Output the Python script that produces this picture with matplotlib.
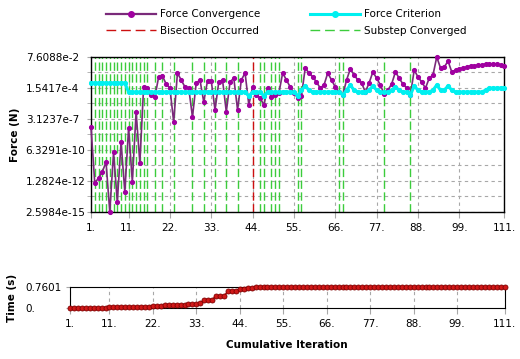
import matplotlib.pyplot as plt
import numpy as np
from matplotlib.lines import Line2D
from matplotlib.ticker import FixedLocator, NullFormatter

# cumulative iteration index
iterations = np.arange(1, 112)

force_convergence = [
    6.3e-8, 8.6e-13, 2.3e-12, 7.8e-12, 5.7e-11, 2.6e-15, 4.2e-10, 1.9e-14, 3.1e-9, 1.4e-13,
    5.2e-8, 1.05e-12, 1.3e-6, 4.7e-11, 1.9e-4, 1.5e-4, 3.8e-5, 2.5e-5, 1.4e-3, 1.7e-3,
    3.4e-4, 1.5e-4, 1.7e-7, 3.1e-3, 7.6e-4, 1.9e-4, 1.5e-4, 4.7e-7, 4.2e-4, 7.6e-4,
    9.4e-6, 6.3e-4, 6.3e-4, 1.9e-6, 5.1e-4, 7.6e-4, 1.3e-6, 5.1e-4, 1.1e-3, 1.9e-6,
    7.6e-4, 3.1e-3, 5.1e-6, 1.9e-4, 3.8e-5, 2.1e-5, 5.1e-6, 1.5e-4, 2.5e-5, 3.8e-5,
    5.7e-5, 3.1e-3, 7.6e-4, 1.9e-4, 5.7e-5, 2.1e-5, 3.1e-5, 8.4e-3, 3.1e-3, 1.4e-3,
    5.1e-4, 1.5e-4, 2.8e-4, 3.1e-3, 7.6e-4, 1.9e-4, 6.9e-5, 3.8e-5, 7.6e-4, 6.9e-3,
    2.1e-3, 7.6e-4, 4.2e-4, 6.9e-5, 4.2e-4, 3.8e-3, 1.1e-3, 2.8e-4, 4.6e-5, 1.0e-4,
    3.4e-4, 3.8e-3, 1.1e-3, 3.4e-4, 1.5e-4, 3.8e-5, 5.6e-3, 1.4e-3, 5.1e-4, 1.5e-4,
    1.1e-3, 2.1e-3, 7.6e-2, 8.4e-3, 1.0e-2, 3.4e-2, 3.8e-3, 5.6e-3, 6.9e-3, 8.4e-3,
    1.0e-2, 1.3e-2, 1.3e-2, 1.5e-2, 1.5e-2, 1.9e-2, 1.9e-2, 1.9e-2, 1.9e-2, 1.5e-2,
    1.3e-2,
]

force_criterion = [
    4.2e-4, 4.2e-4, 4.2e-4, 4.2e-4, 4.2e-4, 4.2e-4, 4.2e-4, 4.2e-4, 4.2e-4, 4.2e-4,
    6.9e-5, 6.9e-5, 6.9e-5, 6.9e-5, 6.9e-5, 6.9e-5, 6.9e-5, 6.9e-5, 6.9e-5, 6.9e-5,
    6.9e-5, 6.9e-5, 6.9e-5, 6.9e-5, 6.9e-5, 6.9e-5, 6.9e-5, 6.9e-5, 6.9e-5, 6.9e-5,
    6.9e-5, 6.9e-5, 6.9e-5, 6.9e-5, 6.9e-5, 6.9e-5, 6.9e-5, 6.9e-5, 6.9e-5, 6.9e-5,
    6.9e-5, 6.9e-5, 3.1e-5, 6.9e-5, 6.9e-5, 6.9e-5, 3.1e-5, 6.9e-5, 6.9e-5, 6.9e-5,
    6.9e-5, 6.9e-5, 6.9e-5, 6.9e-5, 6.9e-5, 3.1e-5, 1.0e-4, 2.3e-4, 1.0e-4, 6.9e-5,
    6.9e-5, 6.9e-5, 6.9e-5, 6.9e-5, 6.9e-5, 6.9e-5, 6.9e-5, 3.8e-5, 1.0e-4, 2.8e-4,
    1.0e-4, 6.9e-5, 6.9e-5, 6.9e-5, 1.0e-4, 2.3e-4, 1.0e-4, 6.9e-5, 6.9e-5, 6.9e-5,
    1.0e-4, 1.9e-4, 1.0e-4, 6.9e-5, 6.9e-5, 3.8e-5, 2.3e-4, 1.0e-4, 6.9e-5, 6.9e-5,
    6.9e-5, 1.0e-4, 2.8e-4, 1.0e-4, 1.0e-4, 2.3e-4, 1.0e-4, 6.9e-5, 6.9e-5, 6.9e-5,
    6.9e-5, 6.9e-5, 6.9e-5, 6.9e-5, 6.9e-5, 1.0e-4, 1.5e-4, 1.5e-4, 1.5e-4, 1.5e-4,
    1.5e-4,
]

time_values = [
    0.0, 0.0, 0.0, 0.0, 0.0, 0.0, 0.0, 0.0, 0.0, 0.0,
    0.025, 0.025, 0.025, 0.025, 0.035, 0.035, 0.035, 0.035, 0.05, 0.05,
    0.05, 0.065, 0.065, 0.065, 0.09, 0.09, 0.09, 0.12, 0.12, 0.12,
    0.15, 0.15, 0.15, 0.17, 0.30, 0.30, 0.30, 0.44, 0.44, 0.44,
    0.60, 0.60, 0.60, 0.68, 0.68, 0.73, 0.73, 0.7601, 0.7601, 0.7601,
    0.7601, 0.7601, 0.7601, 0.7601, 0.7601, 0.7601, 0.7601, 0.7601, 0.7601, 0.7601,
    0.7601, 0.7601, 0.7601, 0.7601, 0.7601, 0.7601, 0.7601, 0.7601, 0.7601, 0.7601,
    0.7601, 0.7601, 0.7601, 0.7601, 0.7601, 0.7601, 0.7601, 0.7601, 0.7601, 0.7601,
    0.7601, 0.7601, 0.7601, 0.7601, 0.7601, 0.7601, 0.7601, 0.7601, 0.7601, 0.7601,
    0.7601, 0.7601, 0.7601, 0.7601, 0.7601, 0.7601, 0.7601, 0.7601, 0.7601, 0.7601,
    0.7601, 0.7601, 0.7601, 0.7601, 0.7601, 0.7601, 0.7601, 0.7601, 0.7601, 0.7601,
    0.7601,
]

bisection_iters = [44]
substep_iters = [2, 3, 4, 5, 6, 7, 8, 9, 10, 11, 12, 13, 14, 15, 16, 18, 20, 23, 28, 31,
                 34, 37, 40, 46, 47, 49, 50, 51, 56, 57, 67, 68, 79, 86]

x_ticks = [1, 11, 22, 33, 44, 55, 66, 77, 88, 99, 111]
x_tick_labels = ['1.', '11.', '22.', '33.', '44.', '55.', '66.', '77.', '88.', '99.', '111.']
force_ticks = [2.5984e-15, 1.2824e-12, 6.3291e-10, 3.1237e-7, 1.5417e-4, 7.6088e-2]
force_tick_labels = ['2.5984e-15', '1.2824e-12', '6.3291e-10', '3.1237e-7', '1.5417e-4', '7.6088e-2']
time_ticks = [0.0, 0.7601]
time_tick_labels = ['0.', '0.7601']

purple = '#a000a0'
purple_line = '#7a2a7a'
cyan = '#00f0f0'
grid_col = '#a8a8a8'
green = '#3ccc3c'
red = '#cc1010'

plt.rcParams['font.family'] = 'DejaVu Sans'
plt.rcParams['font.size'] = 7.5

fig = plt.figure(figsize=(5.2, 3.59), dpi=100)
ax = fig.add_axes([0.175, 0.4095, 0.795, 0.4318])
ax2 = fig.add_axes([0.1346, 0.1421, 0.8356, 0.0585])

# top chart: force convergence
ax.set_yscale('log')
ax.set_xlim(1, 111)
ax.set_ylim(force_ticks[0], force_ticks[-1])

# grid at ticks and at the log midpoints between them
mids = [np.sqrt(a * b) for a, b in zip(force_ticks[:-1], force_ticks[1:])]
ax.yaxis.set_major_locator(FixedLocator(force_ticks))
ax.yaxis.set_minor_locator(FixedLocator(mids))
ax.yaxis.set_minor_formatter(NullFormatter())
ax.set_yticklabels(force_tick_labels, ha='left')
ax.set_xticks(x_ticks)
ax.set_xticklabels(x_tick_labels)
ax.grid(True, which='both', color=grid_col, linestyle=(0, (3, 3)), linewidth=0.8)
ax.set_axisbelow(True)
ax.tick_params(axis='y', which='both', length=3, color=grid_col, pad=44)
ax.tick_params(axis='x', length=4, color=grid_col, pad=4)

for it in substep_iters:
    ax.axvline(it, color=green, linestyle=(0, (6, 2.5)), linewidth=1.0, zorder=1)
for it in bisection_iters:
    ax.axvline(it, color=red, linestyle=(0, (6, 2.5)), linewidth=1.0, zorder=1)

ax.plot(iterations, force_convergence, color=purple_line, linewidth=1.2, marker='o',
        markersize=2.7, markerfacecolor=purple, markeredgecolor=purple, clip_on=False, zorder=3)
ax.plot(iterations, force_criterion, color=cyan, linewidth=2.2, marker='o',
        markersize=2.7, markerfacecolor=cyan, markeredgecolor=cyan, clip_on=False, zorder=4)

ax.set_ylabel('Force (N)', fontweight='bold', labelpad=4)
for sp in ax.spines.values():
    sp.set_linewidth(1.0)

# bottom chart: time
ax2.set_xlim(1, 111)
ax2.set_ylim(time_ticks[0], time_ticks[-1])
ax2.set_xticks(x_ticks)
ax2.set_xticklabels(x_tick_labels)
ax2.set_yticks(time_ticks)
ax2.set_yticklabels(time_tick_labels, ha='left')
ax2.grid(True, axis='x', color=grid_col, linestyle=(0, (3, 3)), linewidth=0.8)
ax2.set_axisbelow(True)
ax2.tick_params(axis='y', length=3, color=grid_col, pad=29)
ax2.tick_params(axis='x', length=4, color=grid_col, pad=4)
ax2.plot(iterations, time_values, color='#b01010', linewidth=1.2, marker='o', markersize=3.6,
         markerfacecolor='#d01818', markeredgecolor='#800000', markeredgewidth=0.6,
         clip_on=False, zorder=3)
ax2.set_ylabel('Time (s)', fontweight='bold', labelpad=6)
ax2.set_xlabel('Cumulative Iteration', fontweight='bold', labelpad=8)

# legend above the plots
handles = [
    Line2D([], [], color=purple_line, linewidth=1.6, marker='o', markersize=4,
           markerfacecolor=purple, markeredgecolor=purple),
    Line2D([], [], color=red, linestyle=(0, (7, 3.5)), linewidth=1.0),
    Line2D([], [], color=cyan, linewidth=2.2, marker='o', markersize=4,
           markerfacecolor=cyan, markeredgecolor=cyan),
    Line2D([], [], color=green, linestyle=(0, (7, 3.5)), linewidth=1.0),
]
labels = ['Force Convergence', 'Bisection Occurred', 'Force Criterion', 'Substep Converged']
fig.legend(handles, labels, ncol=2, loc='upper left', bbox_to_anchor=(0.185, 1.0),
           frameon=False, handlelength=4.8, handletextpad=0.4, columnspacing=4.8,
           labelspacing=0.6, numpoints=1)

fig.savefig('out.png', dpi=100)
